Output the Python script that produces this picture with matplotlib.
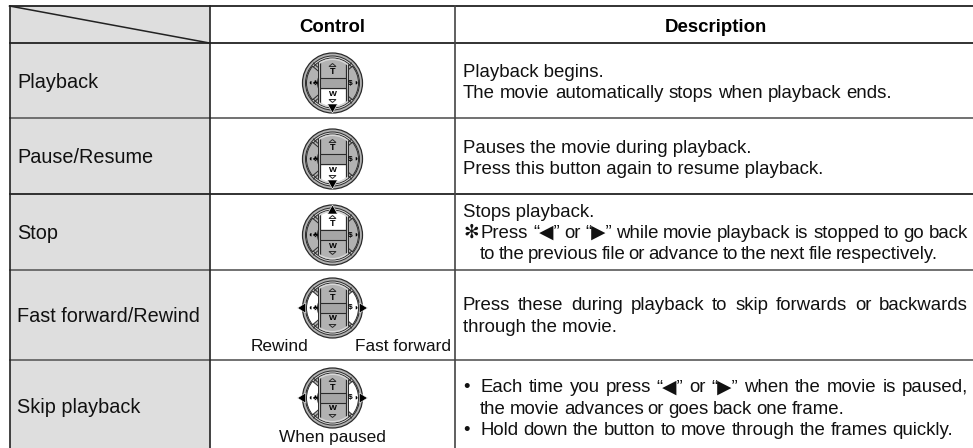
import matplotlib
matplotlib.use('Agg')
import matplotlib.pyplot as plt
from matplotlib.patches import Circle, Rectangle, Wedge, Polygon

plt.rcParams['font.family'] = ['Liberation Sans', 'DejaVu Sans']

#table content
headers = ['Control', 'Description']
row_names = ['Playback', 'Pause/Resume', 'Stop', 'Fast forward/Rewind', 'Skip playback']
descriptions = [
    ['Playback begins.', 'The movie automatically stops when playback ends.'],
    ['Pauses the movie during playback.', 'Press this button again to resume playback.'],
    ['Stops playback.',
     'Press “◀” or “▶” while movie playback is stopped to go back',
     'to the previous file or advance to the next file respectively.'],
    ['Press these during playback to skip forwards or backwards', 'through the movie.'],
    ['Each time you press “◀” or “▶” when the movie is paused,',
     'the movie advances or goes back one frame.',
     'Hold down the button to move through the frames quickly.'],
]
#sign in front of a line, if any
line_marks = [
    ['', ''],
    ['', ''],
    ['', '✻', ''],
    ['', ''],
    ['•', '', '•'],
]
#which part of the dial is lit in each row
lit_parts = ['down', 'down', 'up', 'sides', 'sides']

#pixel layout of the table
row_lines = [43, 118.5, 194, 270, 360.5]
dial_y = [83, 159, 235, 308, 398]
text_y = [[77, 98], [153, 174], [217, 238, 259], [310, 332], [392.5, 414, 435]]
text_x = [[463, 463], [463, 463], [463, 481, 480], [463, 463], [480, 480, 480]]
#right end of the justified lines, None keeps the natural width
text_right = [[None, 892], [None, None], [None, 968, 938], [968, None], [968, 844, 953]]
name_y = [88, 163, 239, 322, 413]
left, col1, col2 = 9.5, 209.5, 455
top = 6
W, H = 973, 448
dial_x = 332.5
text_size = 13.4
name_size = 14.3
small_size = 12.4

fig = plt.figure(figsize=(W / 100, H / 100), dpi=100)
ax = fig.add_axes([0, 0, 1, 1])
ax.set_xlim(0, W)
ax.set_ylim(H, 0)
ax.axis('off')
renderer = fig.canvas.get_renderer()


#one text line, words spread out so that it ends at right
def draw_line(x, y, line, right):
    if right is None:
        ax.text(x, y, line, fontsize=text_size, ha='left', va='baseline', color='#111111')
        return
    words = [ax.text(x, y, w, fontsize=text_size, ha='left', va='baseline', color='#111111') for w in line.split(' ')]
    widths = [t.get_window_extent(renderer).width for t in words]
    gap = (right - x - sum(widths)) / (len(words) - 1)
    pos = x
    for t, w in zip(words, widths):
        t.set_x(pos)
        pos += w + gap


#one four way dial, white part shows the button to press
def draw_dial(cx, cy, lit):
    gray = '#b2b2b2'
    ink = '#2a2a2a'
    ax.add_patch(Circle((cx, cy), 30, fc=gray, ec=ink, lw=0.9, zorder=3))
    ax.add_patch(Circle((cx, cy), 27, fc='#d8d8d8', ec=ink, lw=0.7, zorder=3))
    ax.add_patch(Circle((cx, cy), 25, fc=gray, ec=ink, lw=0.7, zorder=3))
    #side crescents
    for a in (180, 0):
        color = 'white' if lit == 'sides' else gray
        ax.add_patch(Wedge((cx, cy), 26, a - 40, a + 40, width=11, fc=color, ec=ink, lw=0.7, zorder=4))
    #light band round the rocker
    clip0 = Circle((cx, cy), 24.5, transform=ax.transData)
    ax.add_patch(Rectangle((cx - 15, cy - 30), 30, 60, fc='#d8d8d8', ec=ink, lw=0.7, zorder=5, clip_path=clip0))
    #middle rocker, clipped to a circle
    clip = Circle((cx, cy), 23, transform=ax.transData)
    ax.add_patch(Rectangle((cx - 13, cy - 30), 26, 60, fc=gray, ec=ink, lw=0.9, zorder=5, clip_path=clip))
    if lit == 'up':
        ax.add_patch(Rectangle((cx - 13, cy - 30), 26, 25, fc='white', ec=ink, lw=0.9, zorder=5, clip_path=clip))
    if lit == 'down':
        ax.add_patch(Rectangle((cx - 13, cy + 5), 26, 25, fc='white', ec=ink, lw=0.9, zorder=5, clip_path=clip))
    ax.add_patch(Rectangle((cx - 13, cy - 5), 26, 10, fc='#a6a6a6', ec=ink, lw=0.8, zorder=6))
    #T and W with their small marks
    ax.text(cx, cy - 11, 'T', fontsize=6.5, fontweight='bold', ha='center', va='center', zorder=7)
    ax.text(cx, cy + 11, 'W', fontsize=6, fontweight='bold', ha='center', va='center', zorder=7)
    ax.add_patch(Polygon([(cx - 3.5, cy - 16.5), (cx + 3.5, cy - 16.5), (cx, cy - 19.5)], fc='none', ec=ink, lw=0.7, zorder=7))
    ax.add_patch(Polygon([(cx - 3.5, cy + 16.5), (cx + 3.5, cy + 16.5), (cx, cy + 19.5)], fc='none', ec=ink, lw=0.7, zorder=7))
    #small icons on the side buttons
    ax.text(cx - 17.5, cy, '♣', fontsize=5.5, ha='center', va='center', zorder=7)
    ax.text(cx + 17.5, cy, '$', fontsize=6, fontweight='bold', ha='center', va='center', zorder=7, parse_math=False)
    ax.text(cx - 23, cy, '◖', fontsize=6, ha='center', va='center', zorder=7)
    ax.text(cx + 23, cy, '◗', fontsize=6, ha='center', va='center', zorder=7)
    #diagonal lines between inner part and ring
    for sx in (-1, 1):
        for sy in (-1, 1):
            ax.plot([cx + sx * 15, cx + sx * 19], [cy + sy * 16, cy + sy * 20], color=ink, lw=0.7, zorder=4)
    #arrows
    if lit == 'down':
        ax.add_patch(Polygon([(cx - 5, cy + 21), (cx + 5, cy + 21), (cx, cy + 30)], fc='black', ec='white', lw=0.4, zorder=8))
    if lit == 'up':
        ax.add_patch(Polygon([(cx - 5, cy - 21), (cx + 5, cy - 21), (cx, cy - 30)], fc='black', ec='white', lw=0.4, zorder=8))
    if lit == 'sides':
        ax.add_patch(Polygon([(cx - 27, cy - 5), (cx - 27, cy + 5), (cx - 35, cy)], fc='black', ec='white', lw=0.4, zorder=8))
        ax.add_patch(Polygon([(cx + 27, cy - 5), (cx + 27, cy + 5), (cx + 35, cy)], fc='black', ec='white', lw=0.4, zorder=8))


#gray first column
ax.add_patch(Rectangle((left, top), col1 - left, H - top, fc='#dedede', ec='none', zorder=1))

#grid lines
line_color = '#222222'
ax.plot([left, W], [top, top], color=line_color, lw=1.3, zorder=2)
ax.plot([left, col1], [top, row_lines[0]], color=line_color, lw=1.1, zorder=2)
for i, y in enumerate(row_lines):
    c = '#666666' if i in (1, 3, 4) else line_color
    ax.plot([left, W], [y, y], color=c, lw=1.3, zorder=2)
ax.plot([left, left], [top, H], color=line_color, lw=1.2, zorder=2)
ax.plot([col1, col1], [top, H], color=line_color, lw=1.2, zorder=2)
ax.plot([col2, col2], [top, H], color='#444444', lw=1.2, zorder=2)

#header and row texts
ax.text(dial_x, 32, headers[0], fontsize=text_size, fontweight='bold', ha='center', va='baseline')
ax.text(716, 32, headers[1], fontsize=text_size, fontweight='bold', ha='center', va='baseline')
for name, y in zip(row_names, name_y):
    ax.text(17, y, name, fontsize=name_size, ha='left', va='baseline', color='#111111')

for r, lines in enumerate(descriptions):
    for k, line in enumerate(lines):
        draw_line(text_x[r][k], text_y[r][k], line, text_right[r][k])
        if line_marks[r][k]:
            ax.text(463, text_y[r][k], line_marks[r][k], fontsize=text_size, ha='left', va='baseline', color='#111111')

for y, lit in zip(dial_y, lit_parts):
    draw_dial(dial_x, y, lit)

ax.text(280, 351, 'Rewind', fontsize=small_size, ha='center', va='baseline', color='#111111')
ax.text(403, 351, 'Fast forward', fontsize=small_size, ha='center', va='baseline', color='#111111')
ax.text(332, 442, 'When paused', fontsize=small_size, ha='center', va='baseline', color='#111111')

fig.savefig('out.png', dpi=100)
